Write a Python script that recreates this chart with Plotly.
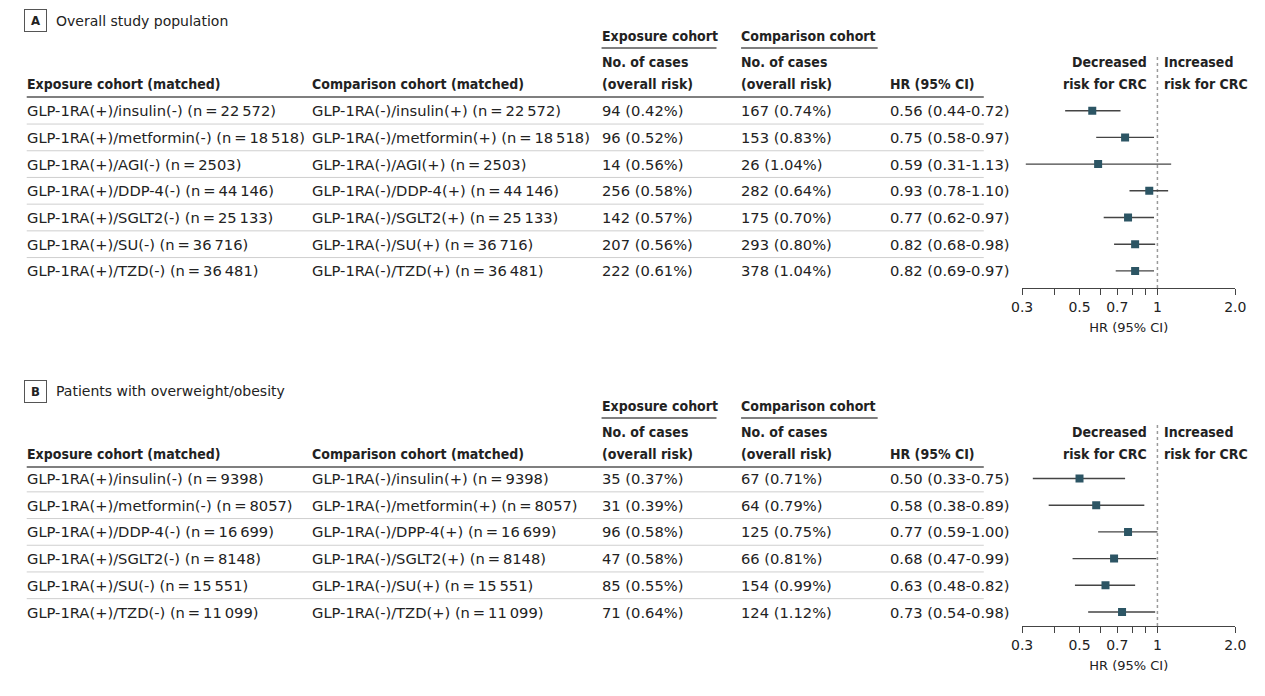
import math
import plotly.graph_objects as go

W, H = 1265, 696
BODY_FONT = "DejaVu Sans"
HEAD_FONT = "DejaVu Sans Condensed"
TXT = "#222222"

# ---------------- Panel A data ----------------
a_exp_drug = ["insulin", "metformin", "AGI", "DDP-4", "SGLT2", "SU", "TZD"]
a_cmp_drug = ["insulin", "metformin", "AGI", "DDP-4", "SGLT2", "SU", "TZD"]
a_n = [22572, 18518, 2503, 44146, 25133, 36716, 36481]
a_exp_cases = [94, 96, 14, 256, 142, 207, 222]
a_exp_risk = [0.42, 0.52, 0.56, 0.58, 0.57, 0.56, 0.61]
a_cmp_cases = [167, 153, 26, 282, 175, 293, 378]
a_cmp_risk = [0.74, 0.83, 1.04, 0.64, 0.70, 0.80, 1.04]
a_hr = [0.56, 0.75, 0.59, 0.93, 0.77, 0.82, 0.82]
a_lo = [0.44, 0.58, 0.31, 0.78, 0.62, 0.68, 0.69]
a_hi = [0.72, 0.97, 1.13, 1.10, 0.97, 0.98, 0.97]

# ---------------- Panel B data ----------------
b_exp_drug = ["insulin", "metformin", "DDP-4", "SGLT2", "SU", "TZD"]
b_cmp_drug = ["insulin", "metformin", "DPP-4", "SGLT2", "SU", "TZD"]
b_n = [9398, 8057, 16699, 8148, 15551, 11099]
b_exp_cases = [35, 31, 96, 47, 85, 71]
b_exp_risk = [0.37, 0.39, 0.58, 0.58, 0.55, 0.64]
b_cmp_cases = [67, 64, 125, 66, 154, 124]
b_cmp_risk = [0.71, 0.79, 0.75, 0.81, 0.99, 1.12]
b_hr = [0.50, 0.58, 0.77, 0.68, 0.63, 0.73]
b_lo = [0.33, 0.38, 0.59, 0.47, 0.48, 0.54]
b_hi = [0.75, 0.89, 1.00, 0.99, 0.82, 0.98]

tick_vals = [0.3, 0.4, 0.5, 0.6, 0.7, 0.8, 0.9, 1, 2]
tick_text = ["0.3", "", "0.5", "", "0.7", "", "", "1", "2.0"]

panel_titles = ["Overall study population", "Patients with overweight/obesity"]
panel_letters = ["A", "B"]


def fmt_n(n):
    s = str(n)
    if n >= 10000:
        s = s[:-3] + "\u2009" + s[-3:]
    return s


def py(px):
    return 1 - px / H


def pxx(px):
    return px / W


fig = go.Figure()
annotations = []
shapes = []

# layout geometry (pixels)
SP = 26.7
X0, X1 = 1029, 1246
COLS = [14, 304, 599, 741, 893]
LINE_L, LINE_R = 16, 990
panels = [
    dict(off=0, first=110.7, bottom=288, top=55,
         exp=a_exp_drug, cmp=a_cmp_drug, n=a_n, ec=a_exp_cases, er=a_exp_risk,
         cc=a_cmp_cases, cr=a_cmp_risk, hr=a_hr, lo=a_lo, hi=a_hi),
    dict(off=370, first=478.5, bottom=626, top=425,
         exp=b_exp_drug, cmp=b_cmp_drug, n=b_n, ec=b_exp_cases, er=b_exp_risk,
         cc=b_cmp_cases, cr=b_cmp_risk, hr=b_hr, lo=b_lo, hi=b_hi),
]

layout_axes = {}
for k, p in enumerate(panels):
    off = p["off"]
    nrows = len(p["hr"])
    xa = "x" if k == 0 else "x2"
    ya = "y" if k == 0 else "y2"
    xname = "xaxis" if k == 0 else "xaxis2"
    yname = "yaxis" if k == 0 else "yaxis2"
    top_val = (p["first"] - p["top"]) / SP
    bot_val = -(p["bottom"] - p["first"]) / SP
    layout_axes[xname] = dict(
        domain=[pxx(X0), pxx(X1)], anchor=ya, type="log",
        range=[math.log10(0.3), math.log10(2)],
        tickvals=tick_vals, ticktext=tick_text, ticks="outside", ticklen=6,
        tickwidth=1.2, tickcolor="#444", showline=True, linecolor="#444",
        linewidth=1.2, showgrid=False, zeroline=False,
        tickfont=dict(family=BODY_FONT, size=14, color=TXT),
        title=dict(text="HR (95% CI)", font=dict(family=BODY_FONT, size=13, color=TXT), standoff=8),
        fixedrange=True,
    )
    layout_axes[yname] = dict(
        domain=[py(p["bottom"]), py(p["top"])], anchor=xa,
        range=[bot_val, top_val], visible=False, fixedrange=True,
    )

    ys = [-i for i in range(nrows)]
    hr = p["hr"]
    fig.add_trace(go.Scatter(
        x=hr, y=ys, xaxis=xa, yaxis=ya, mode="markers",
        marker=dict(symbol="square", size=8, color="#2c5564"),
        error_x=dict(type="data", symmetric=False,
                     array=[h - m for h, m in zip(p["hi"], hr)],
                     arrayminus=[m - l for m, l in zip(hr, p["lo"])],
                     width=0, thickness=1.4, color="#444444"),
        showlegend=False, hoverinfo="skip",
    ))

    # reference line at HR = 1
    shapes.append(dict(type="line", xref=xa, yref=ya + " domain", x0=1, x1=1, y0=0, y1=1,
                       line=dict(color="#9a9a9a", width=1.5, dash="dot"), layer="below"))

    # panel label box + title
    annotations.append(dict(text="<b>" + panel_letters[k] + "</b>", xref="paper", yref="paper",
                            x=pxx(25), y=py(21 + off), xanchor="center", yanchor="middle",
                            showarrow=False, bordercolor="#555", borderwidth=1, borderpad=1,
                            width=19, height=19, bgcolor="white",
                            font=dict(family=HEAD_FONT, size=13, color=TXT)))
    annotations.append(dict(text=panel_titles[k], xref="paper", yref="paper",
                            x=pxx(44), y=py(21 + off), xanchor="left", yanchor="middle",
                            showarrow=False, font=dict(family=BODY_FONT, size=14, color=TXT)))

    hfont = dict(family=HEAD_FONT, size=14, color=TXT, weight="bold")
    hdrs = [
        ("Exposure cohort", COLS[2], 36, "left"),
        ("Comparison cohort", COLS[3], 36, "left"),
        ("No. of cases", COLS[2], 62, "left"),
        ("(overall risk)", COLS[2], 84, "left"),
        ("No. of cases", COLS[3], 62, "left"),
        ("(overall risk)", COLS[3], 84, "left"),
        ("Exposure cohort (matched)", COLS[0], 84, "left"),
        ("Comparison cohort (matched)", COLS[1], 84, "left"),
        ("HR (95% CI)", COLS[4], 84, "left"),
        ("Decreased", 1158, 62, "right"),
        ("risk for CRC", 1158, 84, "right"),
        ("Increased", 1171, 62, "left"),
        ("risk for CRC", 1171, 84, "left"),
    ]
    for t, x, y, anc in hdrs:
        annotations.append(dict(text=t, xref="paper", yref="paper", x=pxx(x), y=py(y + off),
                                xanchor=anc, yanchor="middle", showarrow=False, font=hfont))
    # header underlines
    shapes.append(dict(type="line", xref="paper", yref="paper", x0=pxx(601), x1=pxx(718),
                       y0=py(48 + off), y1=py(48 + off), line=dict(color="#555", width=1.3)))
    shapes.append(dict(type="line", xref="paper", yref="paper", x0=pxx(743), x1=pxx(882),
                       y0=py(48 + off), y1=py(48 + off), line=dict(color="#555", width=1.3)))
    shapes.append(dict(type="line", xref="paper", yref="paper", x0=pxx(LINE_L), x1=pxx(LINE_R),
                       y0=py(97 + off), y1=py(97 + off), line=dict(color="#555", width=1.3)))

    # rows
    bfont = dict(family=BODY_FONT, size=14.7, color=TXT)
    for i in range(nrows):
        cells = [
            f"GLP-1RA(+)/{p['exp'][i]}(-) (n\u2009=\u2009{fmt_n(p['n'][i])})",
            f"GLP-1RA(-)/{p['cmp'][i]}(+) (n\u2009=\u2009{fmt_n(p['n'][i])})",
            f"{p['ec'][i]} ({p['er'][i]:.2f}%)",
            f"{p['cc'][i]} ({p['cr'][i]:.2f}%)",
            f"{p['hr'][i]:.2f} ({p['lo'][i]:.2f}-{p['hi'][i]:.2f})",
        ]
        for c, x in zip(cells, COLS):
            annotations.append(dict(text=c, xref="paper", yref=ya, x=pxx(x), y=-i,
                                    xanchor="left", yanchor="middle", showarrow=False, font=bfont))
        if i < nrows - 1:
            yy = py(p["first"] + (i + 0.5) * SP)
            shapes.append(dict(type="line", xref="paper", yref="paper", x0=pxx(LINE_L), x1=pxx(LINE_R),
                               y0=yy, y1=yy, line=dict(color="#cfcfcf", width=1)))

fig.update_layout(
    width=W, height=H, margin=dict(l=0, r=0, t=0, b=0),
    paper_bgcolor="white", plot_bgcolor="white",
    font=dict(family=BODY_FONT, size=14, color=TXT),
    annotations=annotations, shapes=shapes, **layout_axes,
)

fig.write_html("out.html", config=dict(displayModeBar=False))
